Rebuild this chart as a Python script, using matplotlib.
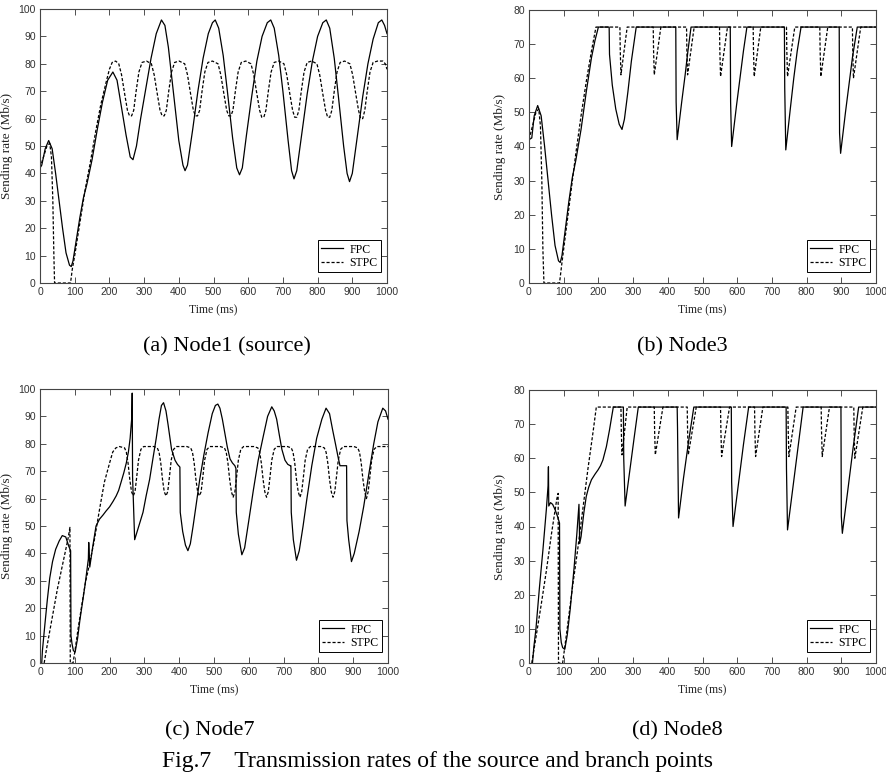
import matplotlib
matplotlib.use("Agg")
import matplotlib.pyplot as plt
from matplotlib import font_manager

# ---- data (time in ms, rate in Mb/s) ----

# (a) Node1 (source)
a_fpc_t = [0, 5, 15, 25, 35, 45, 55, 65, 75, 85, 90, 95, 105, 115, 125, 135, 150, 165, 180, 195,
           210, 222, 235, 248, 260, 268, 278, 290, 305, 320, 335, 350, 360, 370, 385, 400, 412, 418,
           425, 440, 455, 470, 485, 497, 505, 515, 528, 540, 555, 567, 575, 583, 595, 610, 625, 640,
           655, 665, 675, 688, 700, 715, 725, 732, 740, 755, 770, 785, 800, 815, 825, 835, 848, 860,
           875, 885, 892, 900, 915, 930, 945, 960, 975, 985, 993, 1000]
a_fpc_v = [42, 43, 49, 52, 49, 40, 30, 20, 11, 6.5, 6, 8, 16, 24, 31, 36, 45, 56, 66, 74,
           77, 74, 64, 54, 46, 45, 50, 60, 71, 82, 91, 96, 94, 86, 69, 52, 43, 41,
           43, 56, 70, 82, 91, 95, 96, 93, 83, 70, 53, 42, 39.5, 42, 54, 68, 81, 90,
           95, 96, 93, 83, 70, 52, 41, 38, 41, 55, 69, 81, 90, 95, 96, 93, 82, 68,
           50, 40, 37, 40, 54, 68, 80, 89, 95, 96, 94, 91]
a_stpc_t = [0, 10, 20, 28, 33, 37, 40, 42, 88, 93, 100, 115, 130, 145, 160, 175, 190, 200, 208, 218,
            227, 235, 244, 252, 258, 264, 270, 277, 285, 294, 307,
            321, 329, 338, 346, 352, 358, 364, 371, 379, 388, 401,
            417, 425, 434, 442, 448, 454, 460, 467, 475, 484, 497,
            513, 521, 530, 538, 544, 550, 556, 563, 571, 580, 593,
            608, 616, 625, 633, 639, 645, 651, 658, 666, 675, 688,
            703, 711, 720, 728, 734, 740, 746, 753, 761, 770, 783,
            798, 806, 815, 823, 829, 835, 841, 848, 856, 865, 878,
            893, 901, 910, 918, 924, 930, 936, 943, 951, 960, 973,
            988, 995, 1000]
a_stpc_v = [42, 46, 50, 51, 46, 30, 10, 0, 0, 5, 10, 22, 34, 44, 55, 65, 73, 78, 80.5, 81,
            80, 76, 69, 63, 61, 61, 63, 70, 77, 80.5, 81,
            80, 76, 69, 63, 61, 61, 63, 70, 77, 80.5, 81,
            80, 76, 69, 63, 61, 61, 63, 70, 77, 80.5, 81,
            80, 76, 69, 63, 61, 61, 63, 70, 77, 80.5, 81,
            80, 76, 69, 63, 60.5, 60.5, 63, 70, 77, 80.5, 81,
            80, 76, 69, 63, 60.5, 60.5, 63, 70, 77, 80.5, 81,
            80, 76, 69, 63, 60.5, 60.5, 63, 70, 77, 80.5, 81,
            80, 76, 69, 63, 60, 60, 63, 70, 77, 80.5, 81,
            81, 80, 78]

# (b) Node3
b_fpc_t = [0, 0, 8, 15, 25, 35, 45, 55, 65, 75, 85, 90, 95, 105, 115, 125, 135, 150, 165, 180,
           190, 200, 231, 232, 240, 250, 260, 268, 275, 285, 295, 309,
           423, 424, 427, 440, 450, 458, 467,
           580, 581, 584, 598, 608, 618, 628,
           736, 737, 740, 753, 763, 773, 784,
           894, 895, 898, 912, 922, 932, 946, 1000]
b_fpc_v = [0, 42, 42.5, 49, 52, 49, 40, 30, 20, 11, 6.5, 6, 8, 16, 24, 31, 36, 45, 56, 66,
           71, 75, 75, 67, 58, 51, 46.5, 45, 48, 56, 65, 75,
           75, 53, 42, 53, 61, 68, 75,
           75, 53, 40, 52, 60, 68, 75,
           75, 57, 39, 51, 60, 68, 75,
           75, 44, 38, 50, 58, 66, 75, 75]
b_stpc_t = [0, 10, 20, 28, 33, 37, 40, 43, 88, 95, 105, 120, 135, 150, 165, 180, 193,
            262, 263, 265, 283,
            358, 359, 361, 380,
            454, 455, 457, 476,
            549, 550, 552, 572,
            646, 647, 649, 668,
            742, 743, 745, 766,
            838, 839, 841, 861,
            932, 933, 935, 956, 1000]
b_stpc_v = [42, 46, 50, 51, 46, 30, 10, 0, 0, 6, 14, 26, 38, 49, 59, 68, 75,
            75, 68, 61, 75,
            75, 68, 61, 75,
            75, 68, 61, 75,
            75, 68, 60.5, 75,
            75, 68, 60.5, 75,
            75, 68, 60.5, 75,
            75, 68, 60.5, 75,
            75, 68, 60, 75, 75]

# (c) Node7
c_fpc_t = [5, 7, 14, 21, 28, 36, 45, 55, 64, 74, 83, 88, 89, 92, 96, 101, 108, 115, 122, 130,
           136, 139, 140, 143, 151, 161, 171, 181, 190, 200, 210, 219, 226, 233, 241, 248, 254,
           259, 264, 265, 266, 272, 284, 296, 305, 315, 325, 334, 342, 349, 355, 362, 368, 378,
           388, 395, 402, 403, 410, 418, 425, 432, 440, 449, 459, 471, 483, 495, 504, 511, 517,
           524, 531, 538, 546, 553, 560, 563, 564, 570, 580, 588, 600, 613, 627, 642, 654, 666,
           673, 680, 688, 695, 704, 712, 719, 721, 722, 728, 737, 745, 756, 767, 781, 795, 810,
           822, 832, 841, 849, 856, 862, 872, 881, 882, 887, 895, 903, 917, 930, 945, 959, 971,
           985, 993, 1000]
c_fpc_v = [0, 4.6, 14, 23, 31, 37, 41.5, 44.5, 46.5, 46, 42.5, 41, 10, 7, 4.5, 4, 9, 16, 22, 29,
           35, 38, 44, 35, 42, 50, 52.5, 54, 55.5, 57, 59, 61, 63, 66, 69.5, 73, 77,
           82, 90, 98.5, 68, 45, 50, 55, 61, 67, 75, 82, 89, 94, 95, 92, 87, 78,
           74, 72.5, 71.5, 55, 48, 43, 41, 43.5, 50, 58, 67, 76, 84, 91, 94, 94.5, 93,
           89, 84, 79, 74.5, 73, 72, 71, 55, 47, 39.5, 42, 52, 63, 74, 83, 90, 93.5,
           92, 89, 83, 78, 74, 72.5, 72, 72, 55, 45, 37.5, 41, 50, 60, 72, 82, 89,
           93, 91, 85, 80, 75.5, 72, 72, 72, 52, 45, 37, 40, 48, 57, 69, 80, 88,
           93, 92, 89]
c_stpc_t = [12, 20, 30, 40, 50, 60, 70, 80, 86, 87, 95, 100, 110, 120, 130, 142, 155, 171, 185, 200,
            209, 218, 228,
            243, 248, 253, 258, 263, 268, 273, 278, 283, 290, 298, 313, 328,
            337, 342, 347, 352, 357, 362, 367, 372, 377, 384, 392, 407, 422,
            433, 438, 443, 448, 453, 458, 463, 468, 473, 480, 488, 503, 518,
            530, 535, 540, 545, 550, 555, 560, 565, 570, 577, 585, 600, 615,
            626, 631, 636, 641, 646, 651, 656, 661, 666, 673, 681, 696, 711,
            722, 727, 732, 737, 742, 747, 752, 757, 762, 769, 777, 792, 807,
            817, 822, 827, 832, 837, 842, 847, 852, 857, 864, 872, 887, 902,
            913, 918, 923, 928, 933, 938, 943, 948, 953, 960, 968, 983, 1000]
c_stpc_v = [0, 6, 13, 20, 27, 33, 39, 45, 49.5, 0, 0, 4, 13, 21, 29, 36, 44, 56, 66, 73,
            77, 78.5, 79,
            78.5, 77, 73, 67, 62.5, 61, 62.5, 68, 74, 78, 79, 79, 79,
            78.5, 77, 73, 67, 62.5, 61, 62.5, 68, 74, 78, 79, 79, 79,
            78.5, 77, 73, 67, 62.5, 61, 62.5, 68, 74, 78, 79, 79, 79,
            78.5, 77, 73, 67, 62.5, 60.5, 62.5, 68, 74, 78, 79, 79, 79,
            78.5, 77, 73, 67, 62.5, 60.5, 62.5, 68, 74, 78, 79, 79, 79,
            78.5, 77, 73, 67, 62.5, 60.5, 62.5, 68, 74, 78, 79, 79, 79,
            78.5, 77, 73, 67, 62.5, 60.5, 62.5, 68, 74, 78, 79, 79, 79,
            78.5, 77, 73, 67, 62.5, 60, 62.5, 68, 74, 78, 79, 79, 79]

# (d) Node8
d_fpc_t = [10, 14, 20, 30, 40, 50, 55, 56, 57, 62, 68, 75, 82, 88, 89, 93, 97, 103, 110, 119,
           130, 138, 144, 146, 150, 158, 165, 172, 180, 190, 199, 206, 213, 223, 232, 238, 243,
           272, 273, 277, 290, 303, 315,
           427, 428, 431, 445, 460, 475,
           583, 584, 588, 603, 618, 633,
           741, 742, 745, 760, 775, 790,
           899, 900, 903, 918, 934, 950, 1000]
d_fpc_v = [0, 4.7, 10, 22, 33, 45, 52, 57.5, 46, 47, 46.5, 45, 43, 41, 10, 6, 4.5, 4, 8, 16,
           28, 38, 46.5, 35, 37, 44, 48.8, 51.5, 53.7, 55.3, 56.6, 57.8, 59.5, 63.4, 68.3, 72, 75,
           75, 60, 46, 56, 66, 75,
           75, 69, 42.5, 54, 65, 75,
           75, 53, 40, 52, 64, 75,
           75, 57, 39, 51, 63, 75,
           75, 43, 38, 50, 63, 75, 75]
d_stpc_t = [8, 20, 35, 50, 65, 80, 84, 85, 97, 110, 125, 140, 155, 170, 185, 194,
            265, 266, 268, 283,
            361, 362, 364, 386,
            456, 457, 459, 482,
            552, 553, 555, 578,
            650, 651, 653, 674,
            746, 747, 749, 770,
            842, 843, 845, 866,
            936, 937, 939, 962, 1000]
d_stpc_v = [0, 7.5, 17, 27, 38, 48, 49.7, 0, 0, 10, 22, 33, 45, 57, 68, 75,
            75, 68, 61, 75,
            75, 68, 61, 75,
            75, 68, 61, 75,
            75, 68, 60.5, 75,
            75, 68, 60.5, 75,
            75, 68, 60.5, 75,
            75, 68, 60.5, 75,
            75, 68, 60, 75, 75]

x_ticks = list(range(0, 1001, 100))
y_ticks_100 = list(range(0, 101, 10))
y_ticks_80 = list(range(0, 81, 10))

captions = ["(a) Node1 (source)", "(b) Node3", "(c) Node7", "(d) Node8"]
fig_caption = "Fig.7    Transmission rates of the source and branch points"

# ---- fonts ----
installed = {f.name for f in font_manager.fontManager.ttflist}
tick_font = "Liberation Sans Narrow" if "Liberation Sans Narrow" in installed else "Liberation Sans"
serif_font = "Liberation Serif"

fig = plt.figure(figsize=(8.86, 7.76), dpi=100)
W, H = 886.0, 776.0


def make_axes(left, top, right, bottom):
    return fig.add_axes([left / W, 1 - bottom / H, (right - left) / W, (bottom - top) / H])


def style(ax, yticks, ylab_x):
    ax.set_xlim(0, 1000)
    ax.set_ylim(yticks[0], yticks[-1])
    ax.set_xticks(x_ticks)
    ax.set_yticks(yticks)
    ax.tick_params(direction="in", top=True, right=True, length=4, width=0.6,
                   colors="#333333", labelsize=7.5, pad=3)
    for lab in ax.get_xticklabels() + ax.get_yticklabels():
        lab.set_fontfamily(tick_font)
    for sp in ax.spines.values():
        sp.set_linewidth(0.8)
        sp.set_color("#444444")
    ax.set_xlabel("Time (ms)", fontfamily=serif_font, fontsize=8.5, color="#222222")
    ax.set_ylabel("Sending rate (Mb/s)", fontfamily=serif_font, fontsize=9.5, color="#222222")
    ax.xaxis.set_label_coords(0.5, -0.078)
    ax.yaxis.set_label_coords(ylab_x, 0.5)
    leg = ax.legend(loc="lower right", bbox_to_anchor=(0.983, 0.04), borderaxespad=0,
                    fancybox=False, framealpha=1, edgecolor="black", handlelength=1.8,
                    handletextpad=0.6, borderpad=0.28, labelspacing=0.1,
                    prop={"family": serif_font, "size": 8.5})
    leg.get_frame().set_linewidth(0.7)


lw = 0.9

ax = make_axes(40, 9, 387, 283)
ax.plot(a_fpc_t, a_fpc_v, "-", color="black", lw=lw, label="FPC")
ax.plot(a_stpc_t, a_stpc_v, "--", color="black", lw=lw, dashes=(2.5, 1.5), label="STPC")
style(ax, y_ticks_100, -0.078)

ax = make_axes(529, 10, 876, 283)
ax.plot(b_fpc_t, b_fpc_v, "-", color="black", lw=lw, label="FPC")
ax.plot(b_stpc_t, b_stpc_v, "--", color="black", lw=lw, dashes=(2.5, 1.5), label="STPC")
style(ax, y_ticks_80, -0.066)

ax = make_axes(40, 389, 388, 663)
ax.plot(c_fpc_t, c_fpc_v, "-", color="black", lw=lw, label="FPC")
ax.plot(c_stpc_t, c_stpc_v, "--", color="black", lw=lw, dashes=(2.5, 1.5), label="STPC")
style(ax, y_ticks_100, -0.078)

ax = make_axes(529, 390, 876, 663)
ax.plot(d_fpc_t, d_fpc_v, "-", color="black", lw=lw, label="FPC")
ax.plot(d_stpc_t, d_stpc_v, "--", color="black", lw=lw, dashes=(2.5, 1.5), label="STPC")
style(ax, y_ticks_80, -0.066)

# captions
cap_xy = [(227, 347), (682, 347), (210, 731), (677, 731)]
for (cx, cy), txt in zip(cap_xy, captions):
    fig.text(cx / W, 1 - cy / H, txt, ha="center", va="center",
             fontfamily=serif_font, fontsize=16)
fig.text(438 / W, 1 - 762 / H, fig_caption, ha="center", va="center",
         fontfamily=serif_font, fontsize=17)

fig.savefig("out.png", dpi=100)
